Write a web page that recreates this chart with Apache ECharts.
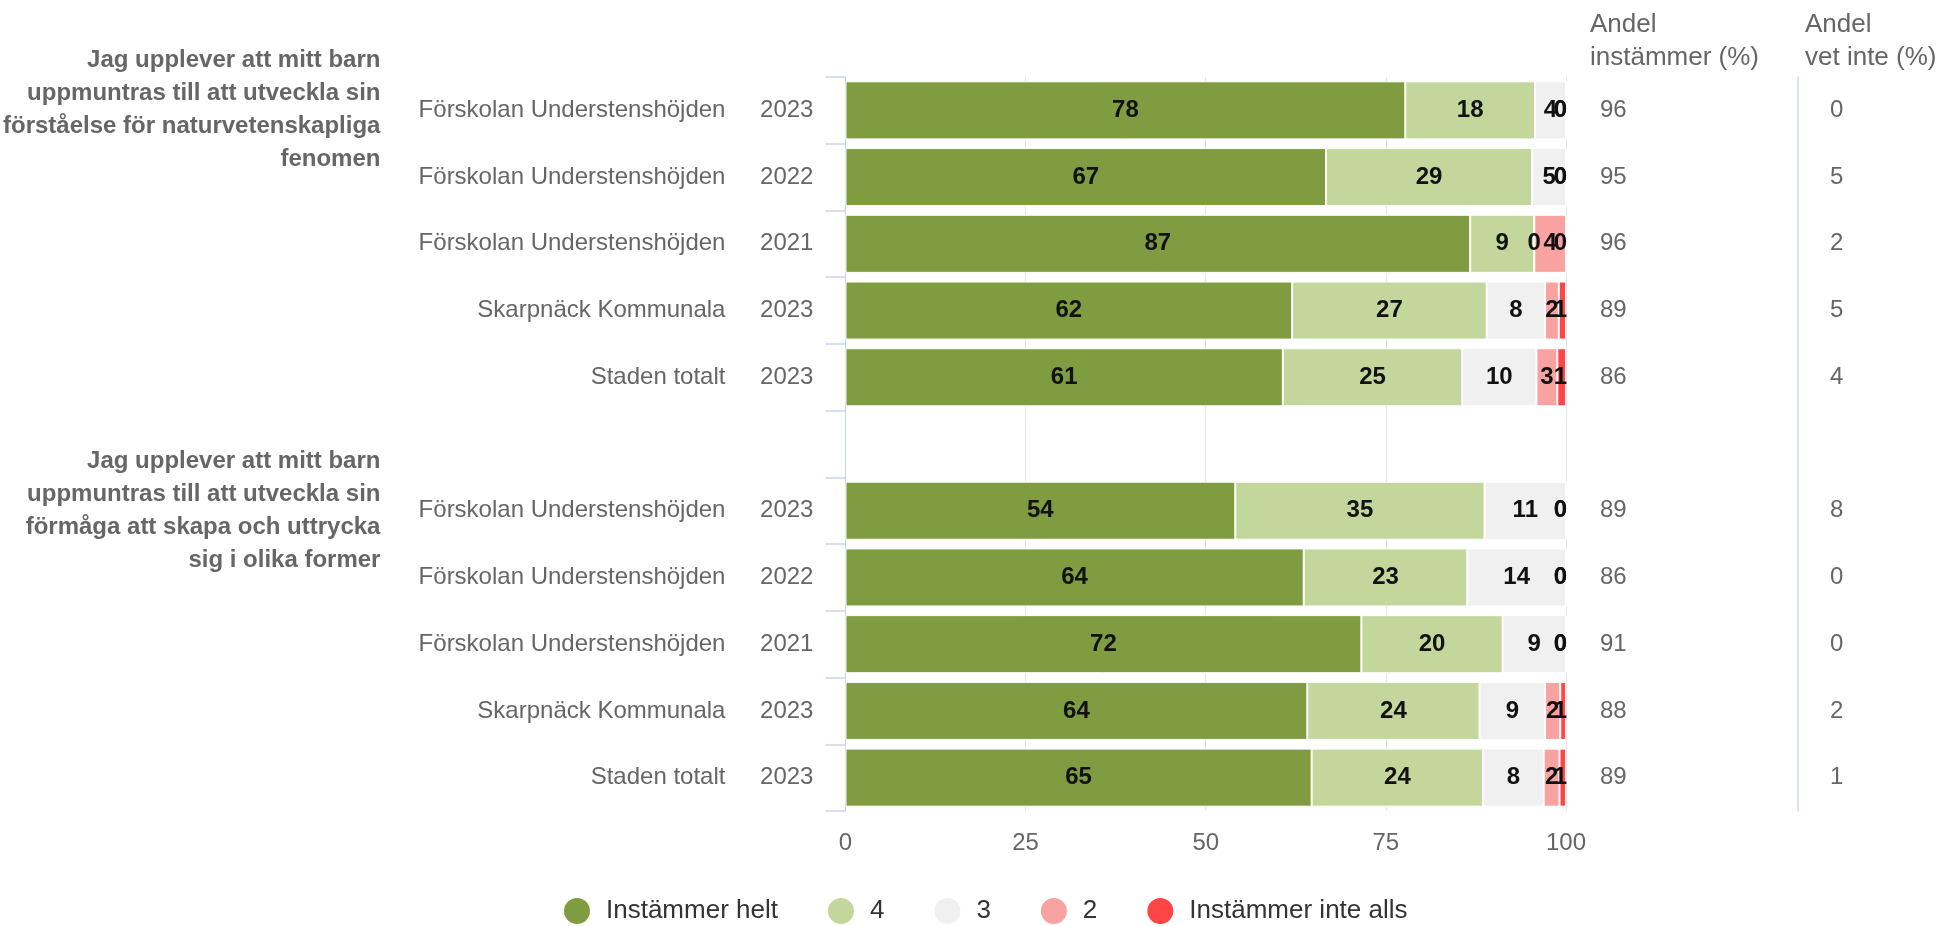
<!DOCTYPE html>
<html>
<head>
<meta charset="utf-8">
<script src="https://cdn.jsdelivr.net/npm/echarts@6/dist/echarts.min.js"></script>
<style>html,body{margin:0;padding:0;background:#fff}#c{width:1944px;height:926px}</style>
</head>
<body>
<div id="c"></div>
<script>
// ---- data ----
const groupTitles = [
  'Jag upplever att mitt barn\nuppmuntras till att utveckla sin\nförståelse för naturvetenskapliga\nfenomen', '', '', '', '', '',
  'Jag upplever att mitt barn\nuppmuntras till att utveckla sin\nförmåga att skapa och uttrycka\nsig i olika former', '', '', '', ''
];
const units = ['Förskolan Understenshöjden','Förskolan Understenshöjden','Förskolan Understenshöjden','Skarpnäck Kommunala','Staden totalt','',
               'Förskolan Understenshöjden','Förskolan Understenshöjden','Förskolan Understenshöjden','Skarpnäck Kommunala','Staden totalt'];
const years = ['2023','2022','2021','2023','2023','','2023','2022','2021','2023','2023'];
const seriesNames = ['Instämmer helt','4','3','2','Instämmer inte alls'];
const helt     = [77.7, 66.7, 86.7, 62.0, 60.7, null, 54.1, 63.6, 71.6, 64.1, 64.7];
const fyra     = [18.0, 28.6,  8.9, 27.0, 24.9, null, 34.6, 22.7, 19.6, 23.9, 23.8];
const tre      = [ 4.3,  4.7,  0.0,  8.1, 10.3, null, 11.3, 13.7,  8.8,  9.1,  8.4];
const tva      = [ 0.0,  0.0,  4.4,  1.9,  2.9, null,  0.0,  0.0,  0.0,  2.1,  2.2];
const inteAlls = [ 0.0,  0.0,  0.0,  1.0,  1.2, null,  0.0,  0.0,  0.0,  0.8,  0.9];
const andelInstammer = ['96','95','96','89','86','','89','86','91','88','89'];
const andelVetInte   = ['0','5','2','5','4','','8','0','0','2','1'];
const xTicks = [0, 25, 50, 75, 100];
const colors = ['#7f9c41','#c3d69b','#f0f0f0','#f9a2a2','#ff4545'];

// ---- chart ----
const FONT = '"Liberation Sans", Arial, Helvetica, sans-serif';
const GRID = {left: 844, right: 378, top: 77, bottom: 115};
const chart = echarts.init(document.getElementById('c'), null, {renderer: 'canvas'});
const values = [helt, fyra, tre, tva, inteAlls];

const series = seriesNames.map((n, i) => ({
  name: n,
  type: 'bar',
  stack: 'total',
  barWidth: '87%',
  data: values[i],
  itemStyle: {color: colors[i], borderColor: '#ffffff', borderWidth: 1},
  label: {
    show: true,
    position: 'inside',
    fontFamily: FONT,
    fontSize: 24,
    fontWeight: 'bold',
    color: '#111',
    offset: [0, 2],
    formatter: p => (p.value == null ? '' : String(Math.round(p.value)))
  },
  labelLayout: function (params) {
    const plotRight = chart.getWidth() - GRID.right;
    const r = params.labelRect;
    if (r.x + r.width > plotRight) {
      return {dx: plotRight + 1 - (r.x + r.width)};
    }
    return {};
  }
}));

const catBase = {
  type: 'category',
  inverse: true,
  gridIndex: 0,
  axisLine: {show: false},
  axisTick: {show: false},
  splitLine: {show: false}
};

const option = {
  animation: false,
  color: colors,
  textStyle: {fontFamily: FONT},
  grid: {left: GRID.left, right: GRID.right, top: GRID.top, bottom: GRID.bottom, containLabel: false},
  xAxis: {
    type: 'value',
    min: 0, max: 100, interval: 25,
    data: xTicks,
    axisLine: {show: false},
    axisTick: {show: false},
    splitLine: {show: true, lineStyle: {color: '#e6e6e6', width: 1}},
    axisLabel: {fontFamily: FONT, fontSize: 24, color: '#666666', margin: 20}
  },
  yAxis: [
    Object.assign({}, catBase, {
      position: 'left',
      data: years,
      axisLine: {show: true, lineStyle: {color: '#ccd6eb', width: 1}},
      axisTick: {show: true, length: 20, lineStyle: {color: '#ccd6eb', width: 1.5}},
      axisLabel: {interval: 0, fontFamily: FONT, fontSize: 24, color: '#666666', margin: 32}
    }),
    Object.assign({}, catBase, {
      position: 'left',
      data: units,
      axisLabel: {interval: 0, fontFamily: FONT, fontSize: 24, color: '#666666', margin: 120}
    }),
    Object.assign({}, catBase, {
      position: 'left',
      data: groupTitles,
      axisLabel: {interval: 0, fontFamily: FONT, fontSize: 24, fontWeight: 'bold', color: '#666666',
                  margin: 465, lineHeight: 33, align: 'right'}
    }),
    Object.assign({}, catBase, {
      position: 'right',
      data: andelInstammer,
      axisLabel: {interval: 0, fontFamily: FONT, fontSize: 24, color: '#666666', margin: 34, align: 'left'}
    }),
    Object.assign({}, catBase, {
      position: 'right',
      offset: 232,
      data: andelVetInte,
      axisLine: {show: true, lineStyle: {color: '#ccd6eb', width: 1.5}},
      axisLabel: {interval: 0, fontFamily: FONT, fontSize: 24, color: '#666666', margin: 32, align: 'left'}
    })
  ],
  legend: {
    bottom: 0,
    left: 562,
    padding: 0,
    icon: 'circle',
    itemWidth: 28,
    itemHeight: 28,
    itemGap: 48,
    data: seriesNames,
    textStyle: {fontFamily: FONT, fontSize: 26, color: '#333333', padding: [0, 0, 0, 10]}
  },
  graphic: [
    {type: 'text', left: 1590, top: 8,
     style: {text: 'Andel\ninstämmer (%)', font: '26px ' + FONT, fill: '#666666', lineHeight: 33}},
    {type: 'text', left: 1805, top: 8,
     style: {text: 'Andel\nvet inte (%)', font: '26px ' + FONT, fill: '#666666', lineHeight: 33}}
  ],
  series: series
};
chart.setOption(option);
</script>
</body>
</html>
